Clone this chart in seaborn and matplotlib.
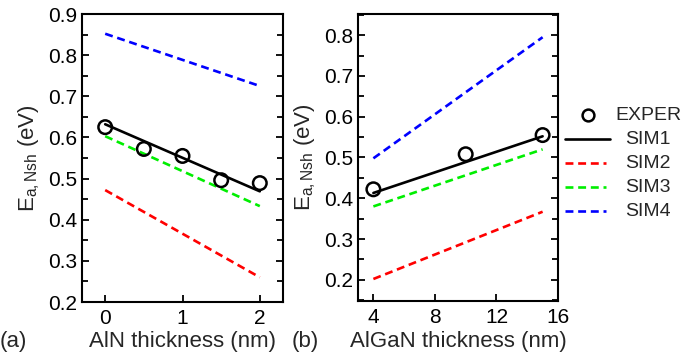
import matplotlib
matplotlib.use("Agg")
import matplotlib.pyplot as plt
import seaborn as sns
import pandas as pd
from matplotlib.ticker import MultipleLocator

sns.set_theme(style="ticks")
plt.rcParams["font.family"] = ["Liberation Sans", "DejaVu Sans"]
plt.rcParams["mathtext.fontset"] = "custom"
plt.rcParams["mathtext.rm"] = "Liberation Sans"
plt.rcParams["mathtext.it"] = "Liberation Sans:italic"

# ---- Data: panel (a) AlN thickness ----
aln_exp_x = [0, 0.5, 1, 1.5, 2]
aln_exp_y = [0.625, 0.572, 0.555, 0.496, 0.489]
aln_sim_x = [0, 2]
aln_sim1 = [0.632, 0.469]
aln_sim2 = [0.472, 0.260]
aln_sim3 = [0.603, 0.433]
aln_sim4 = [0.852, 0.725]

# ---- Data: panel (b) AlGaN thickness ----
algan_exp_x = [4, 10, 15]
algan_exp_y = [0.422, 0.508, 0.555]
algan_sim_x = [4, 15]
algan_sim1 = [0.413, 0.552]
algan_sim2 = [0.202, 0.367]
algan_sim3 = [0.380, 0.520]
algan_sim4 = [0.498, 0.795]

series_names = ["SIM1", "SIM2", "SIM3", "SIM4"]
series_colors = ["black", "#ff0000", "#00ee00", "#0000ff"]
series_dashes = [(None, None), (3, 1.8), (3, 1.8), (3, 1.8)]

W, H = 681, 358
fig = plt.figure(figsize=(W / 100, H / 100), dpi=100)

def ax_rect(l, r, t, b):
    return [l / W, (H - b) / H, (r - l) / W, (b - t) / H]

ax_a = fig.add_axes(ax_rect(82, 283, 14, 302))
ax_b = fig.add_axes(ax_rect(358, 558, 14, 301))

def draw_panel(ax, exp_x, exp_y, sim_x, sims):
    for name, vals, col, dsh in zip(series_names, sims, series_colors, series_dashes):
        df = pd.DataFrame({"x": sim_x, "y": vals})
        line_kw = dict(color=col, lw=1.9)
        sns.lineplot(data=df, x="x", y="y", ax=ax, **line_kw)
        ln = ax.lines[-1]
        if dsh[0] is not None:
            ln.set_dashes(dsh)
    dfe = pd.DataFrame({"x": exp_x, "y": exp_y})
    sns.scatterplot(data=dfe, x="x", y="y", ax=ax, marker="o", s=95,
                    facecolor="none", edgecolor="black", linewidth=1.8, zorder=5)
    ax.set_xlabel("")
    ax.set_ylabel(r"E$_{\mathrm{a,Nsh}}$ (eV)", fontsize=16, labelpad=4)
    for sp in ax.spines.values():
        sp.set_linewidth(1.5)
        sp.set_color("black")
    ax.yaxis.set_minor_locator(MultipleLocator(0.05))
    ax.yaxis.set_major_locator(MultipleLocator(0.1))
    ax.tick_params(axis="y", which="both", direction="in", left=True, right=True,
                   labelsize=15, width=1.3, colors="black")
    ax.tick_params(axis="y", which="major", length=5)
    ax.tick_params(axis="y", which="minor", length=4)
    ax.tick_params(axis="x", which="major", direction="in", bottom=True, top=False,
                   labelsize=15, length=5, width=1.3, colors="black", pad=5)
    ax.tick_params(axis="x", which="minor", bottom=False, top=False)

draw_panel(ax_a, aln_exp_x, aln_exp_y, aln_sim_x,
           [aln_sim1, aln_sim2, aln_sim3, aln_sim4])
ax_a.set_xlim(-0.3, 2.3)
ax_a.set_ylim(0.2, 0.9)
ax_a.set_xticks([0, 1, 2])
ax_a.set_yticks([0.2, 0.3, 0.4, 0.5, 0.6, 0.7, 0.8, 0.9])
ax_a.set_yticklabels(["0.2", "0.3", "0.4", "0.5", "0.6", "0.7", "0.8", "0.9"])

draw_panel(ax_b, algan_exp_x, algan_exp_y, algan_sim_x,
           [algan_sim1, algan_sim2, algan_sim3, algan_sim4])
ax_b.set_xlim(3, 16)
ax_b.set_ylim(0.148, 0.852)
ax_b.set_xticks([4, 8, 12, 16])
ax_b.set_yticks([0.2, 0.3, 0.4, 0.5, 0.6, 0.7, 0.8])
ax_b.set_yticklabels(["0.2", "0.3", "0.4", "0.5", "0.6", "0.7", "0.8"])

# x labels and panel tags
fig.text(182 / W, 1 - 341 / H, "AlN thickness (nm)", ha="center", va="center", fontsize=16)
fig.text(458 / W, 1 - 341 / H, "AlGaN thickness (nm)", ha="center", va="center", fontsize=16)
fig.text(0 / W, 1 - 341 / H, "(a)", ha="left", va="center", fontsize=16)
fig.text(292 / W, 1 - 341 / H, "(b)", ha="left", va="center", fontsize=16)

# manual legend (pixel coordinate overlay)
lax = fig.add_axes([0, 0, 1, 1], facecolor="none")
lax.set_xlim(0, W)
lax.set_ylim(H, 0)
lax.axis("off")
leg_y = [115, 139, 163, 187, 211]
lax.plot([588], [leg_y[0]], marker="o", ms=8.5, mfc="none", mec="black", mew=1.8, ls="none")
lax.text(648, leg_y[0], "EXPER", ha="center", va="center", fontsize=14)
for i, (name, col, dsh) in enumerate(zip(series_names, series_colors, series_dashes)):
    y = leg_y[i + 1]
    ln, = lax.plot([565, 610 if dsh[0] is None else 606], [y, y], color=col, lw=1.9)
    if dsh[0] is not None:
        ln.set_dashes(dsh)
    lax.text(648, y, name, ha="center", va="center", fontsize=14)

fig.savefig("out.png", dpi=100)
